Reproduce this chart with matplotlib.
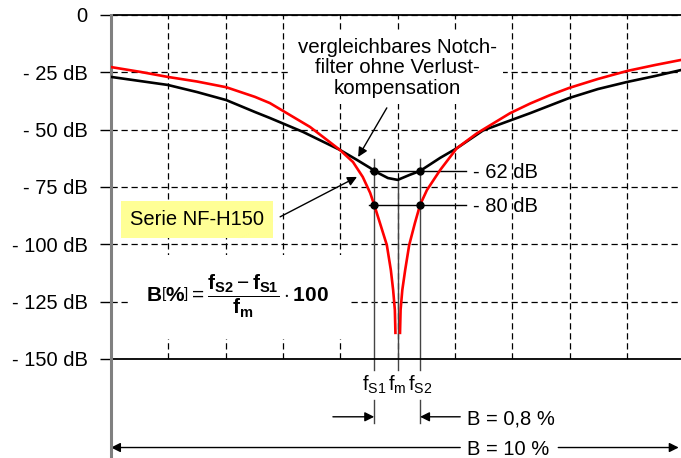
import matplotlib
matplotlib.use("Agg")
import matplotlib.pyplot as plt

plt.rcParams['font.family'] = ['Liberation Sans', 'DejaVu Sans']
plt.rcParams['mathtext.fontset'] = 'custom'
plt.rcParams['mathtext.rm'] = 'Liberation Sans'
plt.rcParams['mathtext.it'] = 'Liberation Sans:italic'
plt.rcParams['mathtext.bf'] = 'Liberation Sans:bold'

# x in grid divisions (log frequency), notch centre at 5
black_u = [0, 0.51, 0.99, 1.50, 2.01, 2.51, 2.77, 3.35, 3.99, 4.29, 4.52, 4.59, 4.83,
           5.0, 5.21, 5.39, 5.74, 6.03, 6.49, 7.31, 7.99, 8.49, 9.0, 9.49, 9.94]
black_db = [-27.0, -28.8, -30.5, -33.6, -37.1, -42.3, -44.9, -51.0, -58.8, -63.2, -66.7,
            -68.0, -71.1, -71.9, -69.7, -68.0, -62.3, -58.1, -50.3, -42.8, -36.2, -32.3,
            -29.2, -26.6, -24.0]

red_left_u = [0, 0.51, 0.99, 1.50, 2.01, 2.51, 2.77, 3.12, 3.47, 3.70, 3.99, 4.22, 4.39,
              4.52, 4.59, 4.69, 4.81, 4.88, 4.92, 4.95, 4.96]
red_left_db = [-22.7, -24.8, -27.0, -29.0, -31.5, -35.7, -38.4, -43.6, -48.8, -53.2, -58.8,
               -64.1, -70.6, -77.6, -82.8, -90.7, -100.3, -111.2, -119.9, -128.6, -138.6]
red_right_u = [5.04, 5.05, 5.08, 5.13, 5.20, 5.30, 5.39, 5.51, 5.74, 6.03, 6.38, 6.96,
               7.31, 7.65, 7.99, 8.49, 9.0, 9.49, 9.94]
red_right_db = [-138.6, -128.6, -119.9, -111.2, -100.3, -90.7, -82.8, -76.3, -67.6, -58.1,
                -51.6, -42.8, -38.6, -35.0, -31.8, -27.9, -24.4, -21.8, -19.6]

yticks = [0, -25, -50, -75, -100, -125, -150]
ytick_labels = ['0', '- 25 dB', '- 50 dB', '- 75 dB', '- 100 dB', '- 125 dB', '- 150 dB']

f_s1, f_m, f_s2 = 4.59, 5.0, 5.39
level_black, level_red = -68.0, -82.8
level_labels = ['- 62 dB', '- 80 dB']

fig = plt.figure(figsize=(6.81, 4.58), dpi=100)
ax = fig.add_axes([111 / 681, 1 - 359 / 458, 570 / 681, 344 / 458])
ax.set_xlim(0, 9.94)
ax.set_ylim(-150, 0)
ybot = -193.1  # bottom edge of the figure in dB units

ax.set_yticks(yticks, ytick_labels)
ax.set_xticks(range(1, 10))
ax.tick_params(axis='x', length=0, labelbottom=False)
ax.tick_params(axis='y', length=8, width=1, pad=9, labelsize=14.5)
ax.grid(True, color='k', lw=0.9, ls=(0, (5, 3)))
ax.set_axisbelow(True)
for s in ['left', 'right']:
    ax.spines[s].set_visible(False)
for s in ['top', 'bottom']:
    ax.spines[s].set_linewidth(1.3)

ax.plot([0, 0], [0, ybot], color='#808080', lw=2.2, clip_on=False, zorder=4)

# measurement lines
lc = '#444444'
ax.plot([f_s1, f_s1], [-63, -154.7], color=lc, lw=1, clip_on=False)
ax.plot([f_s2, f_s2], [-63, -154.7], color=lc, lw=1, clip_on=False)
ax.plot([f_m, f_m], [-72, -154.7], color=lc, lw=1, clip_on=False)
ax.plot([f_s1, f_s1], [-167.8, -177.8], color=lc, lw=1, clip_on=False)
ax.plot([f_s2, f_s2], [-167.8, -177.8], color=lc, lw=1, clip_on=False)
ax.plot([4.52, 6.19], [level_black] * 2, color='k', lw=1)
ax.plot([4.50, 6.19], [level_red] * 2, color='k', lw=1)

ax.plot(black_u, black_db, color='k', lw=1.9, zorder=5)
ax.plot(red_left_u, red_left_db, color='#ff0000', lw=1.9, zorder=5)
ax.plot(red_right_u, red_right_db, color='#ff0000', lw=1.9, zorder=5)

ax.plot([f_s1, f_s2, f_s1, f_s2], [level_black, level_black, level_red, level_red],
        'o', color='k', ms=5, zorder=6)
ax.text(6.31, level_black, level_labels[0], fontsize=14.5, va='center_baseline')
ax.text(6.31, level_red, level_labels[1], fontsize=14.5, va='center_baseline')

# annotations
ax.text(4.99, -23.1, 'vergleichbares Notch-\nfilter ohne Verlust-\nkompensation',
        fontsize=14.8, ha='center', va='center', linespacing=1.1, zorder=7,
        bbox=dict(boxstyle='square,pad=0.3', fc='white', ec='none'))
ax.annotate('', xy=(4.31, -61.9), xytext=(4.81, -40.5),
            arrowprops=dict(arrowstyle='-|>', color='k', lw=1, mutation_scale=14,
                            shrinkA=0, shrinkB=0), zorder=7)
ax.text(1.5, -89, 'Serie NF-H150', fontsize=14.5, ha='center', va='center', zorder=7,
        bbox=dict(boxstyle='square,pad=0.45', fc='#ffff96', ec='none'))
ax.annotate('', xy=(4.29, -70.6), xytext=(2.95, -88.0),
            arrowprops=dict(arrowstyle='-|>', color='k', lw=1, mutation_scale=14,
                            shrinkA=0, shrinkB=0), zorder=7)

ax.text(2.21, -122.9,
        r'$\mathbf{B}\left[\mathbf{\%}\right]=\dfrac{\mathbf{f}_{\mathbf{S2}}-\mathbf{f}_{\mathbf{S1}}}'
        r'{\mathbf{f}_{\mathbf{m}}}\cdot\mathbf{100}$',
        fontsize=15, ha='center', va='center', zorder=7,
        bbox=dict(boxstyle='square,pad=0.9', fc='white', ec='none'))

# frequency labels below the axis
for x, lab in [(f_s1, r'$\mathrm{f}_{\mathrm{S1}}$'), (f_m, r'$\mathrm{f}_{\mathrm{m}}$'),
               (f_s2, r'$\mathrm{f}_{\mathrm{S2}}$')]:
    ax.text(x, -161.3, lab, fontsize=14.5, ha='center', va='center')

arr = dict(arrowstyle='-|>', color='k', lw=1, mutation_scale=14, shrinkA=0, shrinkB=0)
y1 = -175.2
ax.annotate('', xy=(f_s1, y1), xytext=(3.87, y1), arrowprops=arr, annotation_clip=False)
ax.annotate('', xy=(f_s2, y1), xytext=(6.09, y1), arrowprops=arr, annotation_clip=False)
ax.text(6.2, y1, 'B = 0,8 %', fontsize=14.5, va='center_baseline')
y2 = -188.6
ax.annotate('', xy=(0, y2), xytext=(6.09, y2), arrowprops=arr, annotation_clip=False)
ax.annotate('', xy=(9.90, y2), xytext=(7.80, y2), arrowprops=arr, annotation_clip=False)
ax.text(6.2, y2, 'B = 10 %', fontsize=14.5, va='center_baseline')

fig.savefig('out.png', dpi=100)
